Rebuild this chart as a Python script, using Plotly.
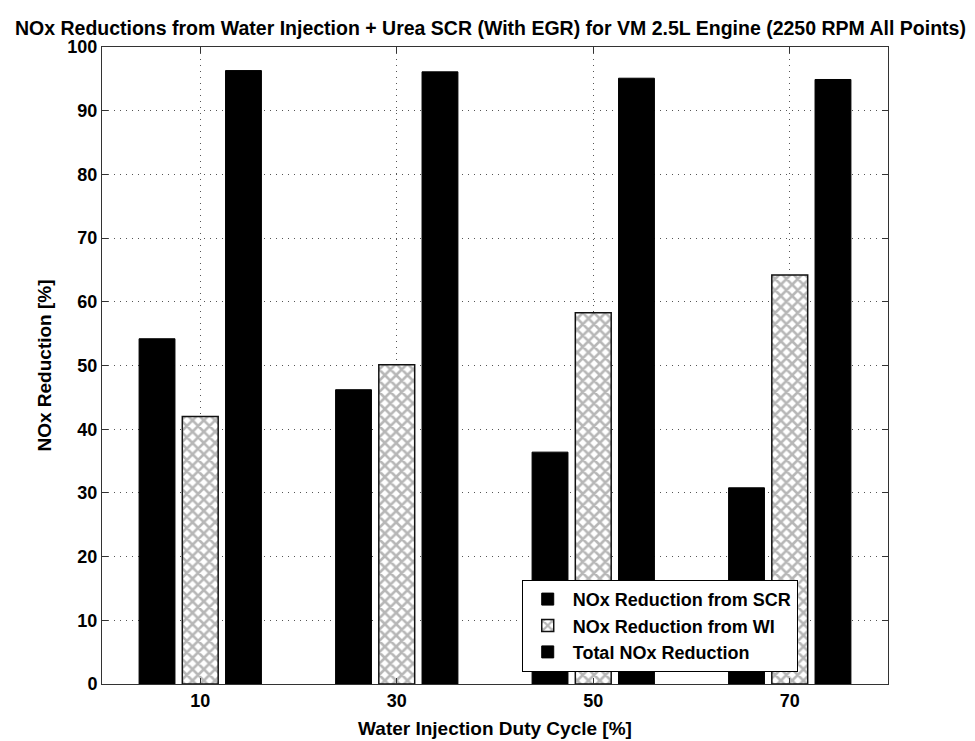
import plotly.graph_objects as go

duty_cycle = [10, 30, 50, 70]
scr_reduction = [54.2, 46.2, 36.4, 30.8]
wi_reduction = [42.0, 50.1, 58.3, 64.2]
total_reduction = [96.3, 96.1, 95.1, 94.9]
y_ticks = [0, 10, 20, 30, 40, 50, 60, 70, 80, 90, 100]

FONT = "Liberation Sans, Arial, Helvetica, sans-serif"

fig = go.Figure()
fig.add_trace(go.Bar(
    x=duty_cycle, y=scr_reduction, name="NOx Reduction from SCR",
    marker=dict(color="black", line=dict(color="black", width=1)),
))
fig.add_trace(go.Bar(
    x=duty_cycle, y=wi_reduction, name="NOx Reduction from WI",
    marker=dict(color="white", line=dict(color="#111", width=1.5),
                pattern=dict(shape="x", fgcolor="#707070", bgcolor="white",
                             size=8, solidity=0.55)),
))
fig.add_trace(go.Bar(
    x=duty_cycle, y=total_reduction, name="Total NOx Reduction",
    marker=dict(color="black", line=dict(color="black", width=1)),
))

axis_common = dict(
    showline=True, linecolor="#333", linewidth=1, mirror="ticks",
    ticks="inside", ticklen=6, tickcolor="#333",
    showgrid=True, gridcolor="#555", gridwidth=1, griddash="1px,5px",
    zeroline=False, automargin=False,
    tickfont=dict(family=FONT, size=18, color="black", weight="bold"),
)

fig.update_layout(
    width=975, height=741,
    margin=dict(l=102, r=87, t=47, b=57),
    paper_bgcolor="white", plot_bgcolor="white",
    barmode="group", bargap=0.34, bargroupgap=0.17,
    title=dict(
        text="NOx Reductions from Water Injection + Urea SCR (With EGR) for VM 2.5L Engine (2250 RPM All Points)",
        x=0.503, xanchor="center", xref="container",
        y=1 - 28 / 741, yanchor="middle", yref="container",
        font=dict(family=FONT, size=19.5, color="black", weight="bold"),
    ),
    xaxis=dict(
        **axis_common, range=[0, 80], tickvals=duty_cycle,
        title=dict(text="Water Injection Duty Cycle [%]", standoff=12,
                   font=dict(family=FONT, size=19, color="black", weight="bold")),
    ),
    yaxis=dict(
        **axis_common, range=[0, 100], tickvals=y_ticks,
        title=dict(text="NOx Reduction [%]", standoff=10,
                   font=dict(family=FONT, size=19, color="black", weight="bold")),
    ),
    legend=dict(
        x=0.534, y=0.019, xanchor="left", yanchor="bottom",
        bgcolor="white", bordercolor="black", borderwidth=1,
        font=dict(family=FONT, size=18, color="black", weight="bold"),
        tracegroupgap=0, itemwidth=40,
    ),
)

fig.write_html("out.html")
